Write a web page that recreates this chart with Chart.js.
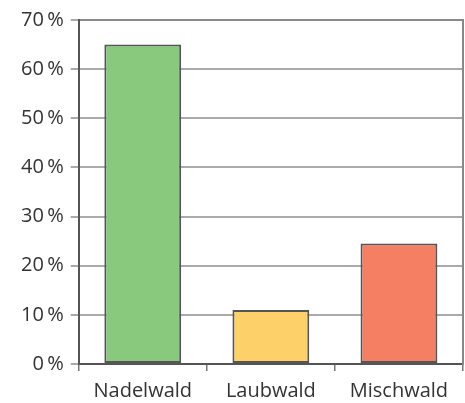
<!DOCTYPE html>
<html>
<head>
<meta charset="utf-8">
<script src="https://cdn.jsdelivr.net/npm/chart.js@4"></script>
<style>
  html, body { margin: 0; padding: 0; background: #fff; }
  #wrap { width: 465px; height: 403px; }
</style>
</head>
<body>
<div id="wrap"><canvas id="graph"></canvas></div>
<script>
// forest types and their share in percent
const categories = ['Nadelwald', 'Laubwald', 'Mischwald'];
const shares = [65, 11, 24.5];
const barColors = ['#88c97e', '#fdd06a', '#f47f62'];
const yTicks = [0, 10, 20, 30, 40, 50, 60, 70];

(function () {
    'use strict'

    let ctx = document.getElementById('graph');
    new Chart(ctx, {
        type: 'bar',
        data: {
            labels: categories,
            datasets: [{
                data: shares,
                backgroundColor: barColors,
                borderColor: '#555',
                borderWidth: 2,
                borderSkipped: false,
                barPercentage: 0.6,
                categoryPercentage: 1
            }]
        },
        options: {
            responsive: true,
            maintainAspectRatio: false,
            animation: false,
            layout: { padding: { top: 20, right: 2, left: 14, bottom: -8 } },
            plugins: {
                legend: { display: false },
                tooltip: { enabled: false }
            },
            scales: {
                x: {
                    offset: true,
                    grid: {
                        offset: true,
                        drawOnChartArea: false,
                        color: '#777',
                        lineWidth: 1.5,
                        tickLength: 7
                    },
                    border: { color: '#555', width: 2 },
                    ticks: {
                        color: '#333',
                        padding: 8,
                        font: { family: 'Open Sans', size: 20 }
                    }
                },
                x2: {
                    type: 'linear',
                    position: 'top',
                    min: 0,
                    max: 1,
                    grid: { drawOnChartArea: false, drawTicks: false },
                    border: { color: '#888', width: 2 },
                    ticks: { display: false }
                },
                y: {
                    min: 0,
                    max: 70,
                    afterBuildTicks: function (axis) {
                        axis.ticks = yTicks.map(v => ({ value: v }));
                    },
                    grid: {
                        color: '#aaa',
                        lineWidth: 2,
                        tickLength: 8
                    },
                    border: { color: '#555', width: 2 },
                    ticks: {
                        color: '#333',
                        padding: 7,
                        font: { family: 'Open Sans', size: 20 },
                        callback: v => v + '\u2009%'
                    }
                },
                y2: {
                    position: 'right',
                    min: 0,
                    max: 70,
                    grid: { drawOnChartArea: false, drawTicks: false },
                    border: { color: '#888', width: 2 },
                    ticks: { display: false }
                }
            }
        }
    });
})()
</script>
</body>
</html>
